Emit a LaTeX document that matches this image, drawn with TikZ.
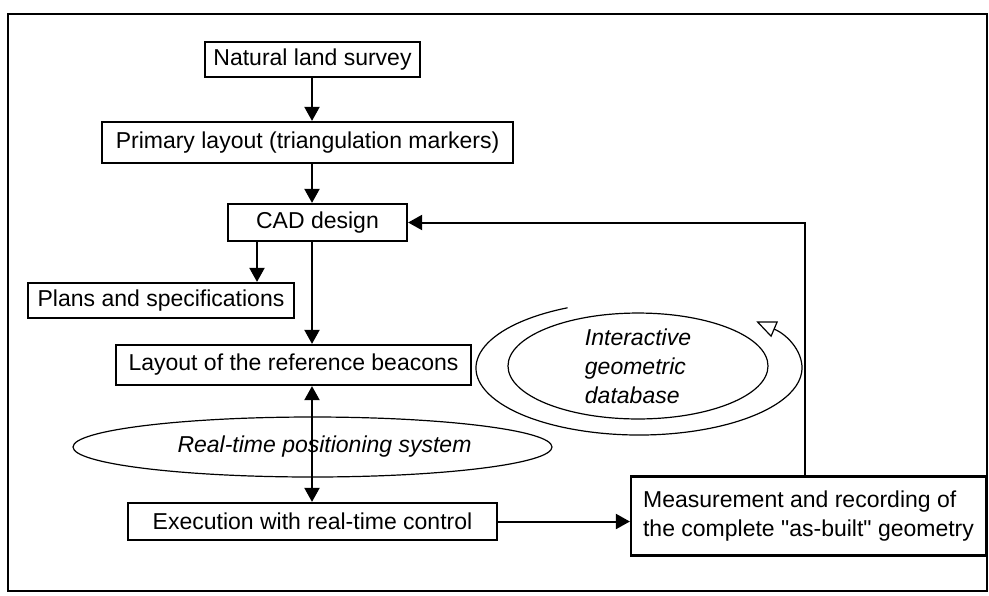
\documentclass[tikz,border=0pt]{standalone}
\usepackage{fontspec}
\setmainfont{Liberation Sans}[Ligatures=TeXOff]
\usetikzlibrary{arrows.meta,shapes.geometric}
\tikzset{
  box/.style={draw,line width=1.1pt,inner sep=0pt,font=\fontsize{11.5}{14.5}\selectfont},
  oval/.style={draw,ellipse,line width=0.6pt,inner sep=0pt,font=\fontsize{11.5}{14.5}\selectfont\itshape},
  arr/.style={line width=1pt,-{Triangle[length=7pt,width=7.5pt]}},
  twoarr/.style={line width=1pt,{Triangle[length=7pt,width=7.5pt]}-{Triangle[length=7pt,width=7.5pt]}}
}
\begin{document}
\begin{tikzpicture}[x=0.5pt,y=-0.5pt]
  \useasboundingbox (0,0) rectangle (989,595);
  \draw[line width=1.1pt] (8,14) rectangle (987,591);
  \node[box,minimum width=107.5pt,minimum height=17.5pt] (survey) at (312.5,59.5) {Natural land survey};
  \node[box,minimum width=205.5pt,minimum height=20.5pt] (primary) at (307.5,142.5) {Primary layout (triangulation markers)};
  \node[box,minimum width=89.5pt,minimum height=18.5pt] (cad) at (317.5,222.5) {CAD design};
  \node[box,minimum width=133pt,minimum height=17.5pt] (plans) at (161,300.5) {Plans and specifications};
  \node[box,minimum width=177.5pt,minimum height=20pt] (beacons) at (293.5,365) {Layout of the reference beacons};
  \node[oval,minimum width=239.5pt,minimum height=30pt] (rtps) at (312.5,447) {\hspace{12pt}Real-time positioning system};
  \node[box,minimum width=184.5pt,minimum height=18.5pt] (exec) at (312.5,521.5) {Execution with real-time control};
  \node[box,align=left,minimum width=177.5pt,minimum height=39.5pt] (meas) at (808.5,516) {Measurement and recording of\\the complete "as-built" geometry};
  \node[oval,align=left,minimum width=130pt,minimum height=51pt] (igdb) at (638,366) {Interactive\\geometric\\database};
  \coordinate (spine) at (312,0);
  \coordinate (split) at (257,0);
  \coordinate (loop) at (805,0);
  \coordinate (ring) at (639,368);
  \draw[arr] (survey.south -| spine) -- (primary.north -| spine);
  \draw[arr] (primary.south -| spine) -- (cad.north -| spine);
  \draw[arr] (cad.south -| spine) -- (beacons.north -| spine);
  \draw[arr] (cad.south -| split) -- (plans.north -| split);
  \draw[twoarr] (beacons.south -| spine) -- (exec.north -| spine);
  \draw[arr] (exec.east) -- (exec.east -| meas.west);
  \draw[arr] (meas.north -| loop) |- (cad.east);
  \draw[line width=0.6pt,-{Triangle[open,length=10pt,width=8.5pt]}] ([shift={(116:81.5pt and 33.5pt)}]ring) arc[start angle=116,end angle=404,x radius=81.5pt,y radius=33.5pt];
\end{tikzpicture}
\end{document}
